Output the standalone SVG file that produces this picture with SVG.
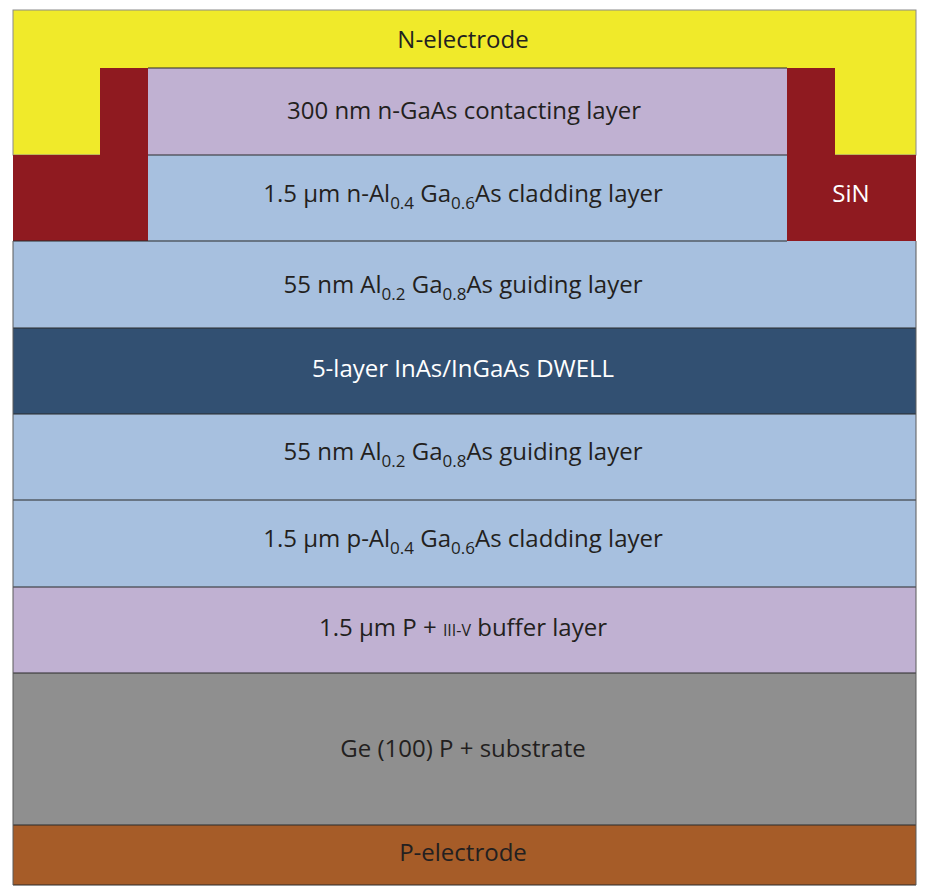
<svg xmlns="http://www.w3.org/2000/svg" width="926" height="894" viewBox="0 0 926 894">
<style>
.t{font-family:"Open Sans","Noto Sans","Liberation Sans",sans-serif;font-size:24px;fill:#231f20;text-anchor:middle}
.w{fill:#ffffff}
.s{font-size:17px}
.sc{font-size:16px}
.ln{stroke:#2b2b2b;stroke-width:1.2;fill:none}
</style>
<rect width="926" height="894" fill="#ffffff"/>
<g id="n-electrode">
<rect x="13" y="10" width="903" height="145" fill="#f0ea2a" stroke="#8a8a8a" stroke-width="1"/>
<text class="t" x="463" y="48">N-electrode</text>
</g>
<g id="sin-left">
<path d="M100 68 H148 V241 H13 V155 H100 Z" fill="#8f1a20"/>
</g>
<g id="sin-right">
<path d="M787 68 H835 V155 H916 V242 H787 Z" fill="#8f1a20"/>
<text class="t w" x="851" y="202">SiN</text>
</g>
<g id="contact-layer">
<rect x="148" y="68" width="639" height="87" fill="#c0b1d2"/>
<text class="t" x="464" y="119">300 nm n-GaAs contacting layer</text>
</g>
<g id="n-cladding">
<rect x="148" y="155" width="639" height="86" fill="#a7c0df"/>
<text class="t" x="463" y="202">1.5 µm n-Al<tspan class="s" dy="7">0.4</tspan><tspan dy="-7"> Ga</tspan><tspan class="s" dy="7">0.6</tspan><tspan dy="-7">As cladding layer</tspan></text>
</g>
<g id="guiding-top">
<rect x="13" y="241" width="903" height="87" fill="#a7c0df"/>
<text class="t" x="463" y="293">55 nm Al<tspan class="s" dy="7">0.2</tspan><tspan dy="-7"> Ga</tspan><tspan class="s" dy="7">0.8</tspan><tspan dy="-7">As guiding layer</tspan></text>
</g>
<g id="dwell">
<rect x="13" y="328" width="903" height="86" fill="#325072"/>
<text class="t w" x="463" y="377">5-layer InAs/InGaAs DWELL</text>
</g>
<g id="guiding-bottom">
<rect x="13" y="414" width="903" height="86" fill="#a7c0df"/>
<text class="t" x="463" y="460">55 nm Al<tspan class="s" dy="7">0.2</tspan><tspan dy="-7"> Ga</tspan><tspan class="s" dy="7">0.8</tspan><tspan dy="-7">As guiding layer</tspan></text>
</g>
<g id="p-cladding">
<rect x="13" y="500" width="903" height="87" fill="#a7c0df"/>
<text class="t" x="463" y="547">1.5 µm p-Al<tspan class="s" dy="7">0.4</tspan><tspan dy="-7"> Ga</tspan><tspan class="s" dy="7">0.6</tspan><tspan dy="-7">As cladding layer</tspan></text>
</g>
<g id="buffer">
<rect x="13" y="587" width="903" height="86" fill="#c0b1d2"/>
<text class="t" x="463" y="636">1.5 µm P + <tspan class="sc">III-V</tspan> buffer layer</text>
</g>
<g id="substrate">
<rect x="13" y="673" width="903" height="152" fill="#8f8f8f"/>
<text class="t" x="463" y="757">Ge (100) P + substrate</text>
</g>
<g id="p-electrode">
<rect x="13" y="825" width="903" height="60" fill="#a65c28"/>
<text class="t" x="463" y="861">P-electrode</text>
</g>
<g id="connectors">
<path class="ln" d="M148 155 H787 M13 241 H787 M13 328 H916 M13 414 H916 M13 500 H916 M13 587 H916 M13 673 H916 M13 825 H916 M13 885 H916 M148 68 H787"/>
<path d="M13 241 V885 M916 241 V885" stroke="#5a5a5a" stroke-width="1" fill="none"/>
</g>
</svg>
